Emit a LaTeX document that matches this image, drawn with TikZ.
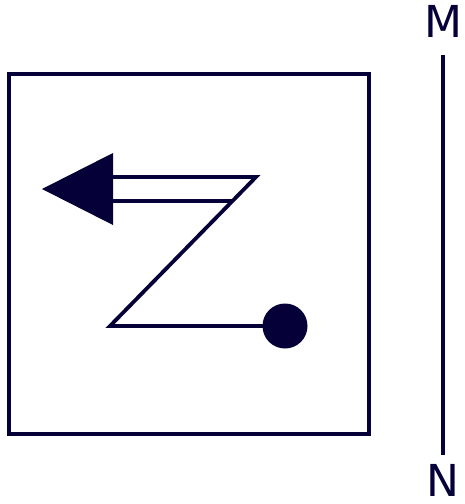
\documentclass[tikz,border=0pt]{standalone}
\usepackage{fontspec}
\setmainfont{DejaVu Sans}
\definecolor{ink}{HTML}{050038}
\tikzset{pole/.style={ink,anchor=base,inner sep=0pt,font=\fontsize{44}{50}\selectfont}}
\begin{document}
\begin{tikzpicture}[x=1pt,y=-1pt,line width=3.8pt]
          \useasboundingbox (0,0) rectangle (465,504);
          % frame
          \draw [ink] (9,74) rectangle (369,434);
          % magnet axis
          \node [pole] (M) at (443,37) {M};
          \node [pole] (N) at (443,496) {N};
          \coordinate (top) at (443,55);
          \coordinate (bot) at (443,455);
          \draw [ink] (top) to (bot);
          % path of the charge
          \coordinate (start) at (285,326);
          \coordinate (corner) at (110,326);
          \draw [ink, line join=miter] (113,201) -- (232.5,201);
          \draw [ink, line join=miter] (start) -- (corner) -- (256,177) -- (113,177);
          \fill [ink] (113,153) -- (42,189) -- (113,225) -- cycle;
          \fill [ink] (start) circle [radius=22.5];
        \end{tikzpicture}
\end{document}
